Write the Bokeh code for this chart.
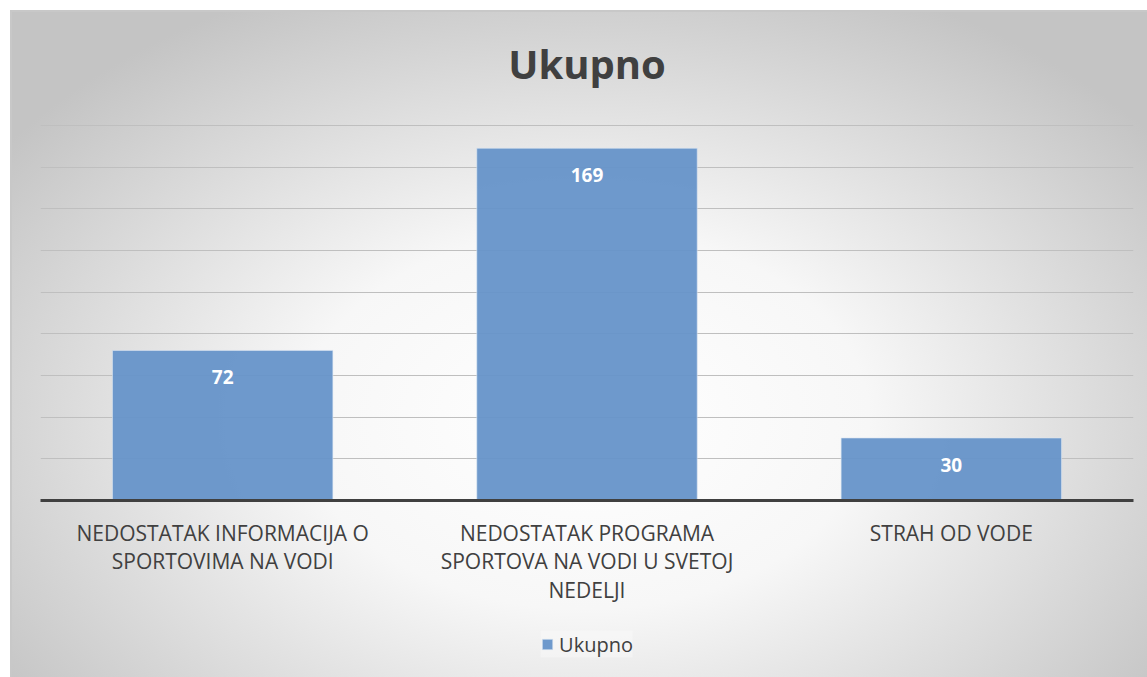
from bokeh.plotting import figure
from bokeh.layouts import column
from bokeh.models import (ColumnDataSource, FactorRange, Range1d, FixedTicker,
                          LabelSet, Legend, LegendItem)
from bokeh.core.properties import value
from bokeh.embed import file_html
from bokeh.resources import INLINE

# ---- data ----
categories = [
    "NEDOSTATAK INFORMACIJA O\nSPORTOVIMA NA VODI",
    "NEDOSTATAK PROGRAMA\nSPORTOVA NA VODI U SVETOJ\nNEDELJI",
    "STRAH OD VODE",
]
values = [72, 169, 30]
series_name = "Ukupno"
title_text = "Ukupno"
y_ticks = list(range(0, 181, 20))

FONT = "Open Sans"
TEXT_COLOR = "#404040"
BAR_COLOR = "#6694c9"

source = ColumnDataSource(dict(cat=categories, val=values,
                               lbl=[str(v) for v in values]))

p = figure(width=1147, height=610, output_backend="svg", toolbar_location=None,
           x_range=FactorRange(factors=categories, range_padding=0),
           y_range=Range1d(0, 180.4),
           min_border_left=40, min_border_right=14, min_border_top=122,
           min_border_bottom=110)
p.border_fill_alpha = 0
p.background_fill_alpha = 0
p.outline_line_color = None

r = p.vbar(x="cat", top="val", width=0.605, source=source,
           fill_color=BAR_COLOR, fill_alpha=0.95, line_color="#dce6f2", line_alpha=0.6, line_width=1)

labels = LabelSet(x="cat", y="val", text="lbl", source=source, y_offset=-27,
                  text_align="center", text_baseline="middle",
                  text_color="white", text_font_style="bold",
                  text_font_size="19px", text_font=value(FONT))
p.add_layout(labels)

p.title.text = title_text
p.title.align = "center"
p.title.text_font_size = "40px"
p.title.text_font_style = "bold"
p.title.text_color = TEXT_COLOR
p.title.text_font = FONT
p.title.standoff = 67

p.yaxis.visible = False
p.ygrid.ticker = FixedTicker(ticks=y_ticks)
p.ygrid.grid_line_color = "#bfbfbf"
p.ygrid.grid_line_width = 1
p.xgrid.grid_line_color = None

ax = p.xaxis[0]
ax.axis_line_color = TEXT_COLOR
ax.axis_line_width = 3
ax.major_tick_line_color = None
ax.minor_tick_line_color = None
ax.major_label_text_font = FONT
ax.major_label_text_font_size = "21px"
ax.major_label_text_line_height = 1.03
ax.major_label_text_color = TEXT_COLOR
ax.major_label_standoff = 12
ax.major_label_orientation = "horizontal"

# legend strip (own small figure so the legend sits below the axis labels)
leg_fig = figure(width=1147, height=67, output_backend="svg", toolbar_location=None,
                 x_range=Range1d(0, 1), y_range=Range1d(0, 1),
                 min_border_left=0, min_border_right=0, min_border_top=0,
                 min_border_bottom=0)
leg_fig.axis.visible = False
leg_fig.grid.visible = False
leg_fig.outline_line_color = None
leg_fig.border_fill_alpha = 0
leg_fig.background_fill_alpha = 0
# legend-only swatch source, kept outside the visible range of this strip
legend_src = ColumnDataSource(dict(x=[-10], top=[-10]))
leg_r = leg_fig.vbar(x="x", top="top", width=0.1, source=legend_src,
                     fill_color=BAR_COLOR, fill_alpha=0.95, line_color="#dce6f2", line_alpha=0.6)
legend = Legend(items=[LegendItem(label=series_name, renderers=[leg_r])],
                location="center", orientation="horizontal",
                glyph_width=13, glyph_height=13, label_standoff=6,
                label_text_font=FONT, label_text_font_size="20px",
                label_text_color=TEXT_COLOR,
                background_fill_color="#ffffff", background_fill_alpha=0.3,
                border_line_color=None, padding=10, margin=0)
leg_fig.add_layout(legend)

layout = column(p, leg_fig, spacing=0)
layout.styles = {"background": (
    "linear-gradient(#ffffff,#ffffff) left top / 100% 10px no-repeat, "
    "linear-gradient(#ffffff,#ffffff) left top / 10px 100% no-repeat, "
    "linear-gradient(#c8c8c8,#c8c8c8) 10px 10px / 100% 2px no-repeat, "
    "linear-gradient(#c8c8c8,#c8c8c8) 10px 10px / 2px 100% no-repeat, "
    "radial-gradient(ellipse 62% 70% at 51% 62%, #ffffff 0%, #f7f7f7 40%, #c4c4c4 100%)")}

open("out.html", "w").write(file_html(layout, INLINE))
